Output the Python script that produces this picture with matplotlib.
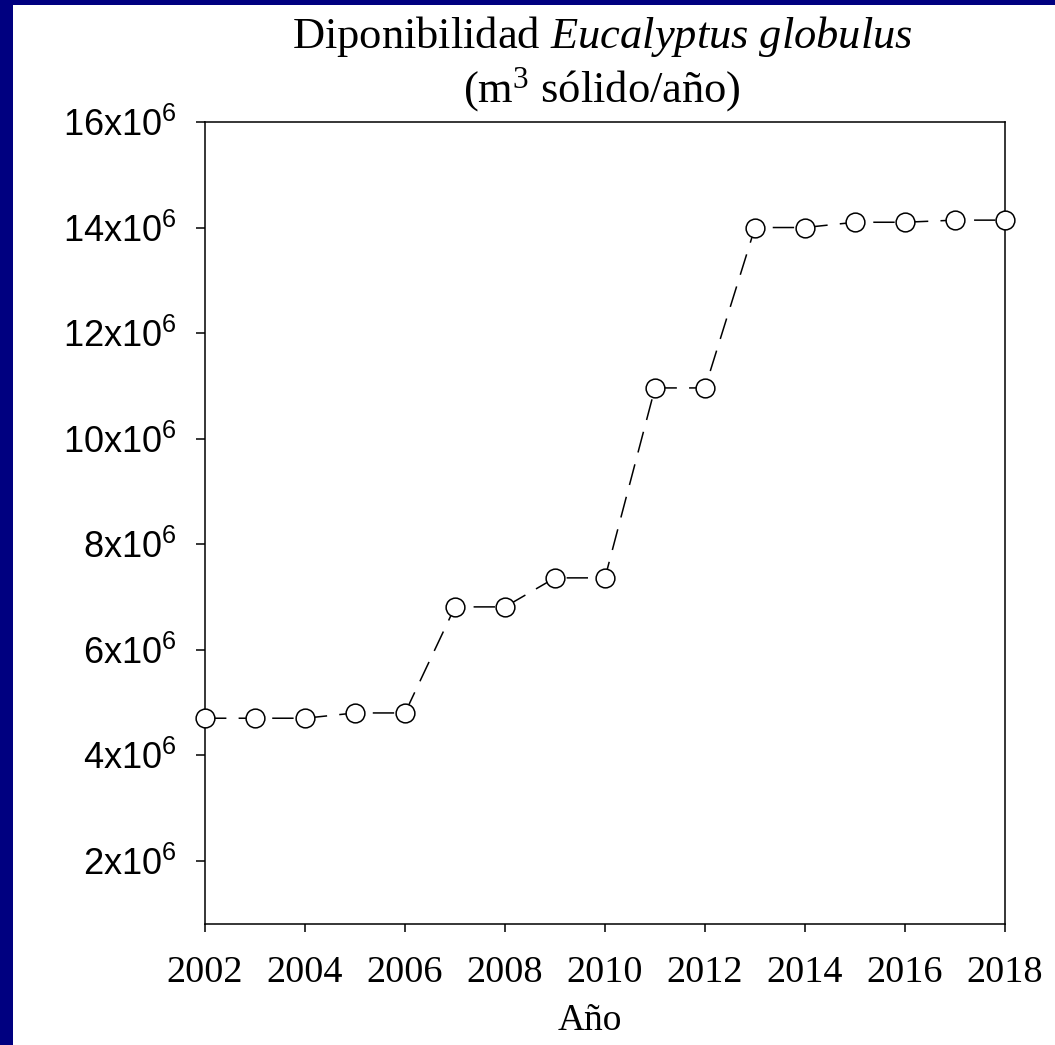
import matplotlib
matplotlib.use('Agg')
import matplotlib.pyplot as plt
from matplotlib.patches import Rectangle

# data
years = [2002, 2003, 2004, 2005, 2006, 2007, 2008, 2009, 2010,
         2011, 2012, 2013, 2014, 2015, 2016, 2017, 2018]
disponibilidad = [4.70e6, 4.70e6, 4.70e6, 4.80e6, 4.80e6, 6.81e6, 6.81e6, 7.36e6, 7.36e6,
                  10.96e6, 10.96e6, 14.00e6, 14.00e6, 14.10e6, 14.10e6, 14.14e6, 14.14e6]
x_ticks = list(range(2002, 2019, 2))
y_ticks = [2e6, 4e6, 6e6, 8e6, 10e6, 12e6, 14e6, 16e6]
y_labels = [r'%dx10$^{6}$' % (v / 1e6) for v in y_ticks]

plt.rcParams['mathtext.fontset'] = 'custom'
plt.rcParams['mathtext.rm'] = 'Liberation Serif'
plt.rcParams['mathtext.it'] = 'Liberation Serif:italic'
plt.rcParams['mathtext.default'] = 'regular'

W, H = 1055, 1045
fig = plt.figure(figsize=(W / 100, H / 100), dpi=100)
fig.patch.set_facecolor('white')

# slide background strips
navy = '#000080'
fig.patches.append(Rectangle((0, 0), 13 / W, 1, transform=fig.transFigure,
                             facecolor=navy, edgecolor='none', zorder=0))
fig.patches.append(Rectangle((0, 1 - 5 / H), 1, 5 / H, transform=fig.transFigure,
                             facecolor=navy, edgecolor='none', zorder=0))

ax = fig.add_axes([205 / W, 1 - 924 / H, 800 / W, 802 / H])
ax.plot(years, disponibilidad, color='black', lw=1.1, dashes=(14, 8),
        marker='o', ms=13.5, mfc='white', mec='black', mew=1.1, clip_on=False, zorder=3)

ax.set_xlim(2002, 2018)
ax.set_ylim(0.8e6, 16e6)
ax.set_xticks(x_ticks)
ax.set_xticklabels([str(t) for t in x_ticks], family='Liberation Serif', fontsize=27.5)
ax.set_yticks(y_ticks)
ax.set_yticklabels(y_labels, family='Liberation Sans', fontsize=26)
ax.tick_params(axis='x', direction='out', length=6, width=1.1, pad=17)
ax.tick_params(axis='y', direction='out', length=6.5, width=1.1, pad=14)
for s in ax.spines.values():
    s.set_linewidth(1.1)

fig.text(602 / W, 1 - 48 / H, r'Diponibilidad $\mathit{Eucalyptus\ globulus}$',
         family='Liberation Serif', fontsize=32, ha='center', va='baseline')
fig.text(602 / W, 1 - 102 / H, r'(m$^{3}$ sólido/año)',
         family='Liberation Serif', fontsize=32, ha='center', va='baseline')
fig.text(590 / W, 1 - 1030 / H, 'Año', family='Liberation Serif', fontsize=27,
         ha='center', va='baseline')

fig.savefig('out.png', dpi=100, facecolor=fig.get_facecolor())
